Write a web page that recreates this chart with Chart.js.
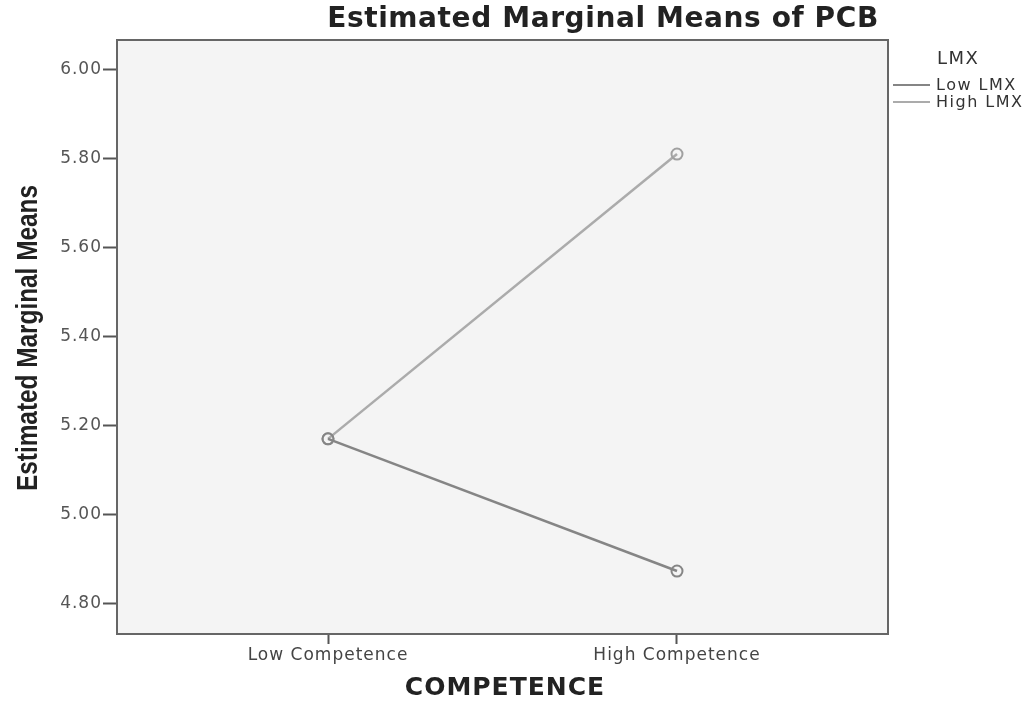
<!DOCTYPE html>
<html>
<head>
<meta charset="utf-8">
<script src="https://cdn.jsdelivr.net/npm/chart.js@4/dist/chart.umd.min.js"></script>
<style>
html,body{margin:0;padding:0;background:#fff;}
canvas{display:block;}
</style>
</head>
<body>
<canvas id="c" width="1034" height="702"></canvas>
<script>
// ---- data ----
const categories = ['Low Competence', 'High Competence'];
const lowLMX = [5.17, 4.873];
const highLMX = [5.17, 5.81];
const yTickValues = [4.80, 5.00, 5.20, 5.40, 5.60, 5.80, 6.00];
const seriesNames = ['Low LMX', 'High LMX'];
const chartTitle = 'Estimated Marginal Means of PCB';
const xTitle = 'COMPETENCE';
const yTitle = 'Estimated Marginal Means';
const legendTitle = 'LMX';

const toPoints = arr => arr.map((v, i) => ({x: i + 1, y: v}));

const decor = {
  id: 'decor',
  beforeDraw(chart) {
    const {ctx, chartArea: a} = chart;
    ctx.save();
    ctx.fillStyle = '#f4f4f4';
    ctx.fillRect(a.left, a.top, a.right - a.left, a.bottom - a.top);
    ctx.restore();
    ctx.letterSpacing = '1px';
  },
  afterDraw(chart) {
    const {ctx, chartArea: a} = chart;
    ctx.save();
    // top & right border
    ctx.strokeStyle = '#666';
    ctx.lineWidth = 2;
    ctx.beginPath();
    ctx.moveTo(a.left, a.top);
    ctx.lineTo(a.right, a.top);
    ctx.lineTo(a.right, a.bottom);
    ctx.stroke();
    // chart title
    ctx.fillStyle = '#222';
    ctx.textBaseline = 'middle';
    ctx.textAlign = 'center';
    ctx.letterSpacing = '0.6px';
    ctx.font = 'bold 28px "DejaVu Sans"';
    ctx.fillText(chartTitle, 603, 20);
    // x title
    ctx.letterSpacing = '1px';
    ctx.font = 'bold 25px "DejaVu Sans"';
    ctx.fillText(xTitle, 505, 688);
    // y title
    ctx.save();
    ctx.letterSpacing = '0px';
    ctx.translate(29, 338);
    ctx.rotate(-Math.PI / 2);
    ctx.scale(0.84, 1);
    ctx.font = 'bold 29px "Liberation Sans"';
    ctx.fillText(yTitle, 0, 0);
    ctx.restore();
    // legend
    ctx.textAlign = 'left';
    ctx.fillStyle = '#333';
    ctx.letterSpacing = '1.5px';
    ctx.font = '18px "DejaVu Sans"';
    ctx.fillText(legendTitle, 937, 59);
    ctx.font = '16px "DejaVu Sans"';
    const ys = [85, 102];
    chart.data.datasets.forEach((ds, i) => {
      ctx.strokeStyle = ds.borderColor;
      ctx.lineWidth = 2;
      ctx.beginPath();
      ctx.moveTo(893, ys[i]);
      ctx.lineTo(930, ys[i]);
      ctx.stroke();
      ctx.fillText(ds.label, 936, ys[i] + 1);
    });
    ctx.restore();
    ctx.letterSpacing = '0px';
  }
};

new Chart(document.getElementById('c'), {
  type: 'line',
  data: {
    datasets: [
      {
        label: seriesNames[0],
        data: toPoints(lowLMX),
        borderColor: '#858585',
        borderWidth: 2.5,
        pointRadius: 5.5,
        pointBorderWidth: 2,
        pointBorderColor: '#858585',
        pointBackgroundColor: 'rgba(0,0,0,0)',
        tension: 0
      },
      {
        label: seriesNames[1],
        data: toPoints(highLMX),
        borderColor: '#ababab',
        borderWidth: 2.5,
        pointRadius: 5.5,
        pointBorderWidth: 2,
        pointBorderColor: '#a0a0a0',
        pointBackgroundColor: 'rgba(0,0,0,0)',
        tension: 0
      }
    ]
  },
  options: {
    responsive: false,
    animation: false,
    layout: {padding: {top: 40, right: 146, bottom: 0, left: 0}},
    plugins: {legend: {display: false}, title: {display: false}, tooltip: {enabled: false}},
    scales: {
      x: {
        type: 'linear',
        min: 0.3954,
        max: 2.6046,
        afterBuildTicks: s => { s.ticks = categories.map((c, i) => ({value: i + 1})); },
        afterFit: s => { s.height = 68; },
        ticks: {
          callback: v => categories[v - 1] || '',
          font: {family: 'DejaVu Sans', size: 17},
          color: '#444',
          padding: 1,
          maxRotation: 0,
          autoSkip: false
        },
        grid: {drawOnChartArea: false, drawTicks: true, tickLength: 10, tickColor: '#555', tickWidth: 2},
        border: {display: true, color: '#666', width: 2}
      },
      y: {
        type: 'linear',
        min: 4.7315,
        max: 6.0663,
        afterBuildTicks: s => { s.ticks = yTickValues.map(v => ({value: v})); },
        afterFit: s => { s.width = 117; },
        ticks: {
          callback: v => Number(v).toFixed(2),
          font: {family: 'DejaVu Sans', size: 17},
          color: '#555',
          padding: 1,
          autoSkip: false
        },
        grid: {drawOnChartArea: false, drawTicks: true, tickLength: 14, tickColor: '#555', tickWidth: 2},
        border: {display: true, color: '#666', width: 2}
      }
    }
  },
  plugins: [decor]
});
</script>
</body>
</html>
